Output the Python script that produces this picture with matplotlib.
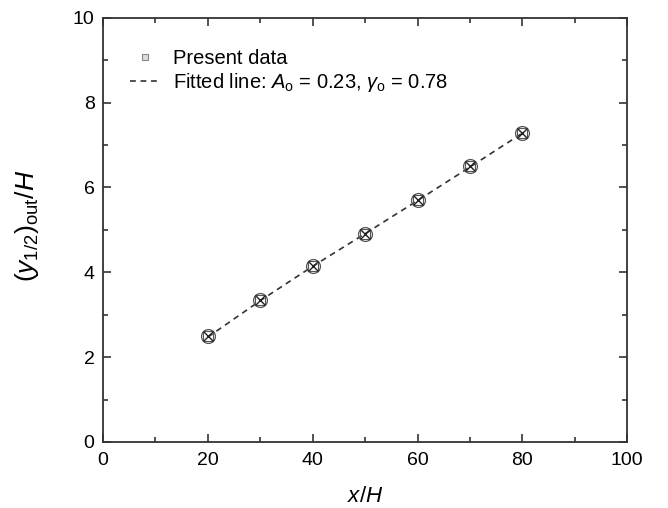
import matplotlib
matplotlib.use("Agg")
import matplotlib.pyplot as plt
from matplotlib.lines import Line2D
from matplotlib.ticker import MultipleLocator

plt.rcParams['font.family'] = ['Liberation Sans', 'DejaVu Sans']
plt.rcParams['mathtext.fontset'] = 'custom'
plt.rcParams['mathtext.rm'] = 'Liberation Sans'
plt.rcParams['mathtext.it'] = 'Liberation Sans:italic'

# data
x_data = [20, 30, 40, 50, 60, 70, 80]
y_data = [2.49, 3.35, 4.15, 4.91, 5.71, 6.51, 7.29]
x_fit = [20, 30, 40, 50, 60, 70, 80]
y_fit = [2.47, 3.33, 4.14, 4.91, 5.69, 6.48, 7.28]

fig = plt.figure(figsize=(6.68, 5.08), dpi=100)
ax = fig.add_axes([0.154, 0.130, 0.785, 0.835])

ax.plot(x_fit, y_fit, linestyle=(0, (3.5, 2.8)), color='#333333', linewidth=1.2, zorder=2)
ax.plot(x_data, y_data, 'o', ms=10, mfc='none', mec='#555555', mew=0.9, zorder=3)
ax.plot(x_data, y_data, 's', ms=7.5, mfc='none', mec='#555555', mew=0.8, zorder=3)
ax.plot(x_data, y_data, 'x', ms=7.5, color='#222222', mew=1.0, zorder=3)

ax.set_xlim(0, 100)
ax.set_ylim(0, 10)
ax.xaxis.set_major_locator(MultipleLocator(20))
ax.xaxis.set_minor_locator(MultipleLocator(10))
ax.yaxis.set_major_locator(MultipleLocator(2))
ax.yaxis.set_minor_locator(MultipleLocator(1))
ax.tick_params(which='both', direction='in', top=True, right=True, labelsize=14, width=1.2, color='#333333')
ax.tick_params(which='major', length=6)
ax.tick_params(which='minor', length=3.5)
ax.tick_params(axis='x', which='major', pad=7)
ax.tick_params(axis='y', which='major', pad=6)
for s in ax.spines.values():
    s.set_linewidth(1.3)
    s.set_color('#333333')

ax.set_xlabel('$\\mathit{x/H}$', fontsize=16)
ax.set_ylabel('$(\\mathit{y}_{\\mathrm{1/2}})_{\\mathrm{out}}/\\mathit{H}$', fontsize=19)
ax.xaxis.set_label_coords(0.5, -0.105)
ax.yaxis.set_label_coords(-0.118, 0.51)

h1 = Line2D([], [], marker='s', ms=5, mfc='#dddddd', mec='#888888', mew=0.8, linestyle='none')
h2 = Line2D([], [], linestyle=(0, (3.5, 2.8)), color='#333333', linewidth=1.2)
ax.legend([h1, h2], ['Present data',
                     'Fitted line: $\\mathit{A}_\\mathrm{o}$ = 0.23, $\\gamma_\\mathrm{o}$ = 0.78'],
          loc='upper left', bbox_to_anchor=(0.029, 0.955), frameon=False, fontsize=14.5,
          handlelength=1.5, handletextpad=0.65, labelspacing=0.15, borderaxespad=0.2)

fig.savefig('out.png', dpi=100)
